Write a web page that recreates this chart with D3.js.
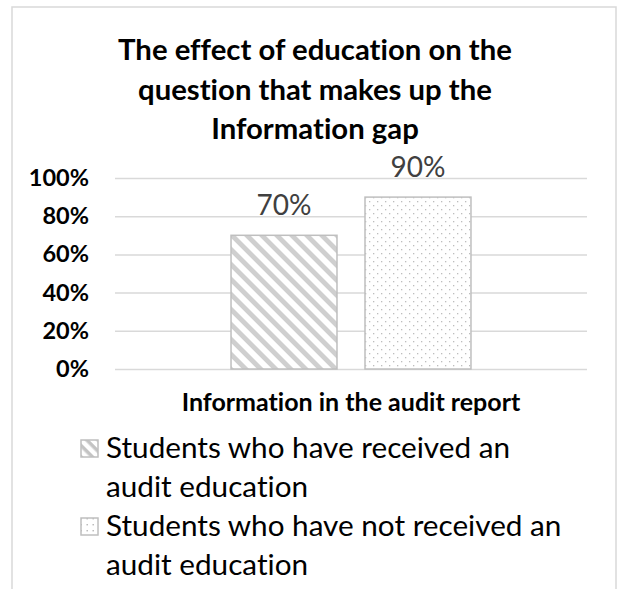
<!DOCTYPE html>
<html>
<head>
<meta charset="utf-8">
<script src="https://cdn.jsdelivr.net/npm/d3@7"></script>
<style>
  html, body { margin: 0; padding: 0; background: #fff; }
  svg { display: block; }
  text { font-family: Lato, "Open Sans", sans-serif; font-variant-ligatures: none; font-feature-settings: "liga" 0; }
</style>
</head>
<body>
<svg id="chart" width="620" height="589"></svg>
<script>
const titleLines = ["The effect of education on the", "question that makes up the", "Information gap"];
const categories = ["Information in the audit report"];
const seriesNames = ["Students who have received an audit education", "Students who have not received an audit education"];
const legendLines = [["Students who have received an", "audit education"], ["Students who have not received an", "audit education"]];
const seriesValues = [0.70, 0.90];
const yTicks = [0, 0.2, 0.4, 0.6, 0.8, 1.0];
const yTickLabels = ["0%", "20%", "40%", "60%", "80%", "100%"];
const valueLabels = ["70%", "90%"];
const patternIds = ["hatch", "dots"];

const svg = d3.select("#chart");
const defs = svg.append("defs");

// diagonal hatch pattern (downward diagonal)
const hatch = defs.append("pattern").attr("id", "hatch").attr("patternUnits", "userSpaceOnUse")
  .attr("width", 10.6).attr("height", 10.6).attr("patternTransform", "rotate(45)");
hatch.append("rect").attr("width", 10.6).attr("height", 10.6).attr("fill", "#fff");
hatch.append("rect").attr("x", 0).attr("y", 0).attr("width", 10.6).attr("height", 4.8).attr("fill", "#cfcfcf");

const hatchL = defs.append("pattern").attr("id", "hatchL").attr("patternUnits", "userSpaceOnUse")
  .attr("width", 8).attr("height", 8).attr("patternTransform", "rotate(45)");
hatchL.append("rect").attr("width", 8).attr("height", 8).attr("fill", "#fff");
hatchL.append("rect").attr("width", 8).attr("height", 3.5).attr("fill", "#c4c4c4");

const dots = defs.append("pattern").attr("id", "dots").attr("patternUnits", "userSpaceOnUse")
  .attr("width", 8).attr("height", 8);
dots.append("rect").attr("width", 8).attr("height", 8).attr("fill", "#fff");
dots.append("rect").attr("x", 1).attr("y", 1).attr("width", 1.3).attr("height", 1.3).attr("fill", "#bdbdbd");
dots.append("rect").attr("x", 5).attr("y", 5).attr("width", 1.3).attr("height", 1.3).attr("fill", "#bdbdbd");

const dotsL = defs.append("pattern").attr("id", "dotsL").attr("patternUnits", "userSpaceOnUse")
  .attr("width", 6).attr("height", 6);
dotsL.append("rect").attr("width", 6).attr("height", 6).attr("fill", "#fff");
dotsL.append("rect").attr("x", 2.5).attr("y", 2).attr("width", 1.4).attr("height", 1.4).attr("fill", "#b5b5b5");

// chart border
svg.append("rect").attr("x", 12).attr("y", 7).attr("width", 604).attr("height", 600)
  .attr("fill", "#fff").attr("stroke", "#d9d9d9").attr("stroke-width", 1.5);

// title
svg.append("g").selectAll("text").data(titleLines).join("text")
  .attr("x", 315).attr("y", (d, i) => 60 + i * 39.5)
  .attr("text-anchor", "middle").attr("font-size", 29.3).attr("font-weight", 700).attr("fill", "#000")
  .text(d => d);

// scales
const y = d3.scaleLinear().domain([0, 1]).range([369, 178]);
const x0 = d3.scaleBand().domain(categories).range([115, 587]);
const x1 = d3.scaleBand().domain(seriesNames).range([x0(categories[0]), x0(categories[0]) + x0.bandwidth()])
  .paddingInner(0.209).paddingOuter(0.866);

// gridlines
const yAxis = d3.axisLeft(y).tickValues(yTicks).tickSize(-(587 - 115)).tickFormat((d, i) => yTickLabels[i]);
const gAxis = svg.append("g").attr("transform", "translate(115,0)").call(yAxis);
gAxis.select(".domain").remove();
gAxis.selectAll(".tick line").attr("stroke", "#d9d9d9").attr("stroke-width", 1.5);
gAxis.selectAll(".tick text").attr("x", -26).attr("font-size", 23.5).attr("font-weight", 700)
  .attr("fill", "#000").attr("font-family", "Lato, sans-serif");

// bars
svg.append("g").selectAll("rect").data(seriesValues).join("rect")
  .attr("x", (d, i) => x1(seriesNames[i]))
  .attr("y", d => y(d))
  .attr("width", x1.bandwidth())
  .attr("height", d => y(0) - y(d))
  .attr("fill", (d, i) => `url(#${patternIds[i]})`)
  .attr("stroke", "#bfbfbf").attr("stroke-width", 1.5);

// value labels
svg.append("g").selectAll("text").data(seriesValues).join("text")
  .attr("x", (d, i) => x1(seriesNames[i]) + x1.bandwidth() / 2)
  .attr("y", d => y(d) - 20)
  .attr("text-anchor", "middle").attr("font-size", 28).attr("fill", "#404040")
  .text((d, i) => valueLabels[i]);

// category axis label
svg.append("text").attr("x", x0(categories[0]) + x0.bandwidth() / 2).attr("y", 411)
  .attr("text-anchor", "middle").attr("font-size", 25).attr("font-weight", 700).attr("fill", "#000")
  .text(categories[0]);

// legend
const legendIds = ["hatchL", "dotsL"];
const lg = svg.append("g").selectAll("g").data(legendLines).join("g")
  .attr("transform", (d, i) => `translate(0,${i * 78})`);
lg.append("rect").attr("x", 81).attr("y", 440).attr("width", 17).attr("height", 17)
  .attr("fill", (d, i) => `url(#${legendIds[i]})`).attr("stroke", "#bfbfbf").attr("stroke-width", 1.5);
lg.selectAll("text").data(d => d).join("text")
  .attr("x", 106).attr("y", (d, j) => 458 + j * 38.5)
  .attr("font-size", 29.7).attr("fill", "#000")
  .text(d => d);
</script>
</body>
</html>
